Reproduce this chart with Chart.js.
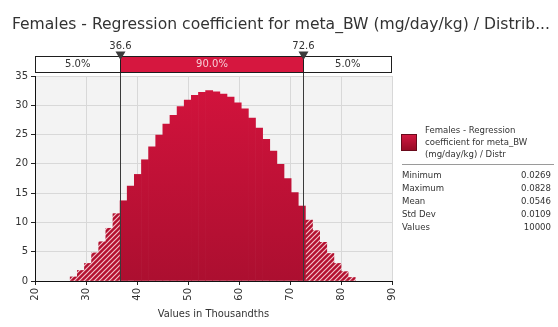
<!DOCTYPE html>
<html>
<head>
<meta charset="utf-8">
<script src="https://cdn.jsdelivr.net/npm/chart.js@4.4.1/dist/chart.umd.min.js"></script>
<style>
  html, body { margin: 0; padding: 0; background: #fff; width: 558px; height: 327px; overflow: hidden; }
  #wrap { position: relative; width: 558px; height: 327px; }
  #c { position: absolute; left: 0; top: 0; }
  #title { position: absolute; left: 12px; top: 17px; font: 15px "DejaVu Sans Condensed", "DejaVu Sans", sans-serif;
           line-height: 15px; color: #333; white-space: nowrap; transform-origin: 0 0; }
  .panel { position: absolute; font: 9.5px "DejaVu Sans Condensed", "DejaVu Sans", sans-serif; color: #333; line-height: 12.2px; white-space: nowrap; }
  #swatch { position: absolute; left: 401px; top: 134px; width: 14px; height: 15px; border: 1px solid #6a0a1c;
            background: linear-gradient(#d01840, #980c26); }
  #legendText { left: 425px; top: 124px; }
  #sep { position: absolute; left: 402px; top: 164px; width: 152px; height: 1px; background: #9a9a9a; }
  #stats { position: absolute; left: 402px; top: 168px; width: 149px; font: 9.5px "DejaVu Sans Condensed", "DejaVu Sans", sans-serif; color: #333; }
  #stats .row { display: flex; justify-content: space-between; height: 13px; line-height: 13px; }
</style>
</head>
<body>
<div id="wrap">
  <canvas id="c" width="558" height="327"></canvas>
  <div id="title"></div>
  <div id="swatch"></div>
  <div id="legendText" class="panel"></div>
  <div id="sep"></div>
  <div id="stats"></div>
</div>
<script>
// Histogram of the simulated regression coefficient (values in thousandths)
const chartTitle = 'Females - Regression coefficient for meta_BW (mg/day/kg) / Distrib...';
const seriesName = ['Females - Regression', 'coefficient for meta_BW', '(mg/day/kg) / Distr'];
const axisTitle = 'Values in Thousandths';

// 40 equal-width bins spanning the sampled minimum to maximum
const binLow = 26.9;
const binHigh = 82.8;
const density = [0.7, 1.8, 3.0, 4.8, 6.7, 9.0, 11.5, 13.7, 16.2, 18.2,
                 20.7, 22.9, 24.9, 26.8, 28.3, 29.8, 30.9, 31.7, 32.2, 32.5,
                 32.3, 31.9, 31.4, 30.4, 29.4, 27.8, 26.1, 24.2, 22.2, 19.9,
                 17.5, 15.1, 12.8, 10.4, 8.6, 6.6, 4.7, 3.0, 1.6, 0.6];

// Delimiters and the share of values in each band
const cutLow = 36.6;
const cutHigh = 72.6;
const bandShares = ['5.0%', '90.0%', '5.0%'];

const xTicks = [20, 30, 40, 50, 60, 70, 80, 90];
const yTicks = [0, 5, 10, 15, 20, 25, 30, 35];

const statNames = ['Minimum', 'Maximum', 'Mean', 'Std Dev', 'Values'];
const statValues = ['0.0269', '0.0828', '0.0546', '0.0109', '10000'];

const FONT = '"DejaVu Sans", sans-serif';
const FONT_C = '"DejaVu Sans Condensed", "DejaVu Sans", sans-serif';

// ---- side texts ----
const titleEl = document.getElementById('title');
titleEl.textContent = chartTitle;
const tw = titleEl.getBoundingClientRect().width;
titleEl.style.transform = 'scaleX(' + (538 / tw) + ')';
document.getElementById('legendText').innerHTML = seriesName.join('<br>');
document.getElementById('stats').innerHTML = statNames.map((n, i) =>
  '<div class="row"><span>' + n + '</span><span>' + statValues[i] + '</span></div>').join('');

// ---- bins ----
const binW = (binHigh - binLow) / density.length;
const centers = density.map((_, i) => binLow + (i + 0.5) * binW);
const inner = [], outer = [];
density.forEach((v, i) => {
  const c = centers[i];
  if (c > cutLow && c < cutHigh) inner.push({ x: c, y: v });
  else outer.push({ x: c, y: v });
});

// diagonal hatch for the tail bins
function hatchPattern() {
  const s = 5;
  const cv = document.createElement('canvas');
  cv.width = s; cv.height = s;
  const g = cv.getContext('2d');
  g.fillStyle = '#b3102f';
  g.fillRect(0, 0, s, s);
  g.strokeStyle = 'rgba(255,225,230,0.85)';
  g.lineWidth = 1.2;
  g.beginPath();
  g.moveTo(-1, s + 1); g.lineTo(s + 1, -1);
  g.moveTo(-1, 1); g.lineTo(1, -1);
  g.moveTo(s - 1, s + 1); g.lineTo(s + 1, s - 1);
  g.stroke();
  return g.createPattern(cv, 'repeat');
}

function solidFill(ctx) {
  const area = ctx.chart.chartArea;
  if (!area) return '#c4103a';
  const gr = ctx.chart.ctx.createLinearGradient(0, area.top, 0, area.bottom);
  gr.addColorStop(0, '#d4133d');
  gr.addColorStop(1, '#ac0f30');
  return gr;
}

const plotBg = {
  id: 'plotBg',
  beforeDraw(chart) {
    const { ctx, chartArea: a } = chart;
    ctx.save();
    ctx.fillStyle = '#f3f3f3';
    ctx.fillRect(a.left, a.top, a.right - a.left, a.bottom - a.top);
    ctx.restore();
  }
};

const delimiters = {
  id: 'delimiters',
  afterDatasetsDraw(chart) {
    const { ctx, chartArea: a, scales: { x } } = chart;
    const x1 = Math.round(x.getPixelForValue(cutLow)) + 0.5;
    const x2 = Math.round(x.getPixelForValue(cutHigh)) + 0.5;
    ctx.save();
    ctx.strokeStyle = '#3a3a3a';
    ctx.lineWidth = 1;
    ctx.beginPath();
    ctx.moveTo(x1, 56); ctx.lineTo(x1, a.bottom);
    ctx.moveTo(x2, 56); ctx.lineTo(x2, a.bottom);
    ctx.stroke();
    ctx.restore();
  },
  afterDraw(chart) {
    const { ctx, chartArea: a, scales: { x } } = chart;
    const x1 = Math.round(x.getPixelForValue(cutLow)) + 0.5;
    const x2 = Math.round(x.getPixelForValue(cutHigh)) + 0.5;
    const top = 56, bot = 72;
    ctx.save();
    ctx.fillStyle = '#ffffff';
    ctx.fillRect(a.left, top, a.right - a.left, bot - top);
    ctx.fillStyle = '#d6173f';
    ctx.fillRect(x1, top, x2 - x1, bot - top);
    ctx.strokeStyle = '#1e1e1e';
    ctx.lineWidth = 1;
    ctx.strokeRect(a.left + 0.5, top + 0.5, a.right - a.left - 1, bot - top);
    ctx.beginPath();
    ctx.moveTo(x1, top); ctx.lineTo(x1, bot);
    ctx.moveTo(x2, top); ctx.lineTo(x2, bot);
    ctx.stroke();

    ctx.font = '10px ' + FONT;
    ctx.textAlign = 'center';
    ctx.textBaseline = 'middle';
    ctx.fillStyle = '#333';
    ctx.fillText(bandShares[0], (a.left + x1) / 2, 64.5);
    ctx.fillText(bandShares[2], (x2 + a.right) / 2, 64.5);
    ctx.fillStyle = '#f6cdd6';
    ctx.fillText(bandShares[1], (x1 + x2) / 2, 64.5);

    // markers with their values
    [[x1, cutLow], [x2, cutHigh]].forEach(([px, v]) => {
      ctx.fillStyle = '#3c3c3c';
      ctx.beginPath();
      ctx.moveTo(px - 5, 51.5);
      ctx.lineTo(px + 5, 51.5);
      ctx.lineTo(px, 60);
      ctx.closePath();
      ctx.fill();
      ctx.fillStyle = '#333';
      ctx.textBaseline = 'alphabetic';
      ctx.fillText(v.toFixed(1), px, 48.5);
    });
    ctx.restore();
  }
};

new Chart(document.getElementById('c'), {
  type: 'bar',
  data: {
    datasets: [
      { data: inner, backgroundColor: solidFill, borderWidth: 0,
        barPercentage: 1, categoryPercentage: 1, grouped: false },
      { data: outer, backgroundColor: hatchPattern(), borderWidth: 0,
        barPercentage: 1, categoryPercentage: 1, grouped: false }
    ]
  },
  options: {
    responsive: false,
    animation: false,
    devicePixelRatio: 1,
    layout: { padding: { left: 0, top: 76, right: 166, bottom: 0 } },
    plugins: { legend: { display: false }, tooltip: { enabled: false }, title: { display: false } },
    scales: {
      x: {
        type: 'linear', min: 20, max: 90, offset: false,
        afterBuildTicks: s => { s.ticks = xTicks.map(v => ({ value: v })); },
        afterFit: s => { s.height = 46; },
        ticks: { autoSkip: false, minRotation: 90, maxRotation: 90, padding: 3, color: '#333', font: { family: FONT, size: 10 } },
        grid: { offset: false, color: '#d8d8d8', tickColor: '#222', tickLength: 4 },
        border: { color: '#111', width: 1 },
        title: { display: true, text: axisTitle, color: '#333', font: { family: FONT_C, size: 11 }, padding: { top: 0, bottom: 6 } }
      },
      y: {
        type: 'linear', min: 0, max: 35,
        afterBuildTicks: s => { s.ticks = yTicks.map(v => ({ value: v })); },
        afterFit: s => { s.width = 35; },
        ticks: { padding: 3, color: '#333', font: { family: FONT, size: 10 } },
        grid: { color: '#d8d8d8', tickColor: '#222', tickLength: 4 },
        border: { color: '#111', width: 1 }
      }
    }
  },
  plugins: [plotBg, delimiters]
});
</script>
</body>
</html>
